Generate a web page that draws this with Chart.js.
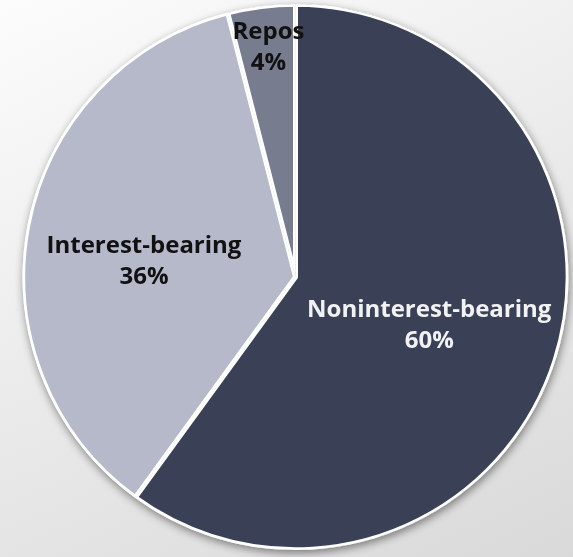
<!DOCTYPE html>
<html>
<head>
<meta charset="utf-8">
<script src="https://cdn.jsdelivr.net/npm/chart.js@4.4.1/dist/chart.umd.min.js"></script>
<style>
  html, body { margin: 0; padding: 0; }
  body {
    width: 573px; height: 557px; overflow: hidden;
    background: linear-gradient(155deg, #fcfcfc 0%, #ececec 45%, #d9d9d9 100%);
  }
  #depositChart { display: block; }
</style>
</head>
<body>
<canvas id="depositChart" width="573" height="557"></canvas>
<script>
// Deposit mix
const categories = ["Noninterest-bearing", "Interest-bearing", "Repos"];
const shares = [60, 36, 4];
const sliceColors = ["#3a4157", "#b5b9c9", "#777d8f"];
const labelColors = ["#f2f2f2", "#111111", "#111111"];
// label block placement: fraction of radius along the slice middle, plus a small nudge
const labelRadius = [0.515, 0.565, 0.85];
const labelShift = [[0, 5], [0, 13], [2, 0]];

// soft drop shadow under the whole pie
const pieShadow = {
  id: "pieShadow",
  beforeDatasetsDraw(chart) {
    const arc = chart.getDatasetMeta(0).data[0];
    if (!arc) return;
    const ctx = chart.ctx;
    ctx.save();
    ctx.shadowColor = "rgba(0,0,0,0.45)";
    ctx.shadowBlur = 8;
    ctx.shadowOffsetX = 1;
    ctx.shadowOffsetY = 3;
    ctx.beginPath();
    ctx.arc(arc.x, arc.y, arc.outerRadius, 0, Math.PI * 2);
    ctx.fillStyle = "#ffffff";
    ctx.fill();
    ctx.restore();
  }
};

// "Name / NN%" labels inside the slices
const sliceLabels = {
  id: "sliceLabels",
  afterDatasetsDraw(chart) {
    const ctx = chart.ctx;
    ctx.save();
    ctx.font = "bold 24px 'Open Sans', 'DejaVu Sans', sans-serif";
    ctx.textAlign = "center";
    ctx.textBaseline = "middle";
    chart.getDatasetMeta(0).data.forEach((arc, i) => {
      const mid = (arc.startAngle + arc.endAngle) / 2;
      const r = arc.outerRadius * labelRadius[i];
      const x = arc.x + Math.cos(mid) * r + labelShift[i][0];
      const y = arc.y + Math.sin(mid) * r + labelShift[i][1];
      ctx.fillStyle = labelColors[i];
      ctx.fillText(categories[i], x, y - 15);
      ctx.fillText(shares[i] + "%", x, y + 16);
    });
    ctx.restore();
  }
};

new Chart(document.getElementById("depositChart"), {
  type: "pie",
  data: {
    labels: categories,
    datasets: [{
      data: shares,
      backgroundColor: sliceColors,
      borderColor: "#ffffff",
      borderWidth: 2.5,
      borderAlign: "inner"
    }]
  },
  options: {
    responsive: false,
    animation: false,
    layout: { padding: { left: 22, right: 4, top: 4, bottom: 7 } },
    plugins: {
      legend: { display: false },
      tooltip: { enabled: false }
    }
  },
  plugins: [pieShadow, sliceLabels]
});
</script>
</body>
</html>
